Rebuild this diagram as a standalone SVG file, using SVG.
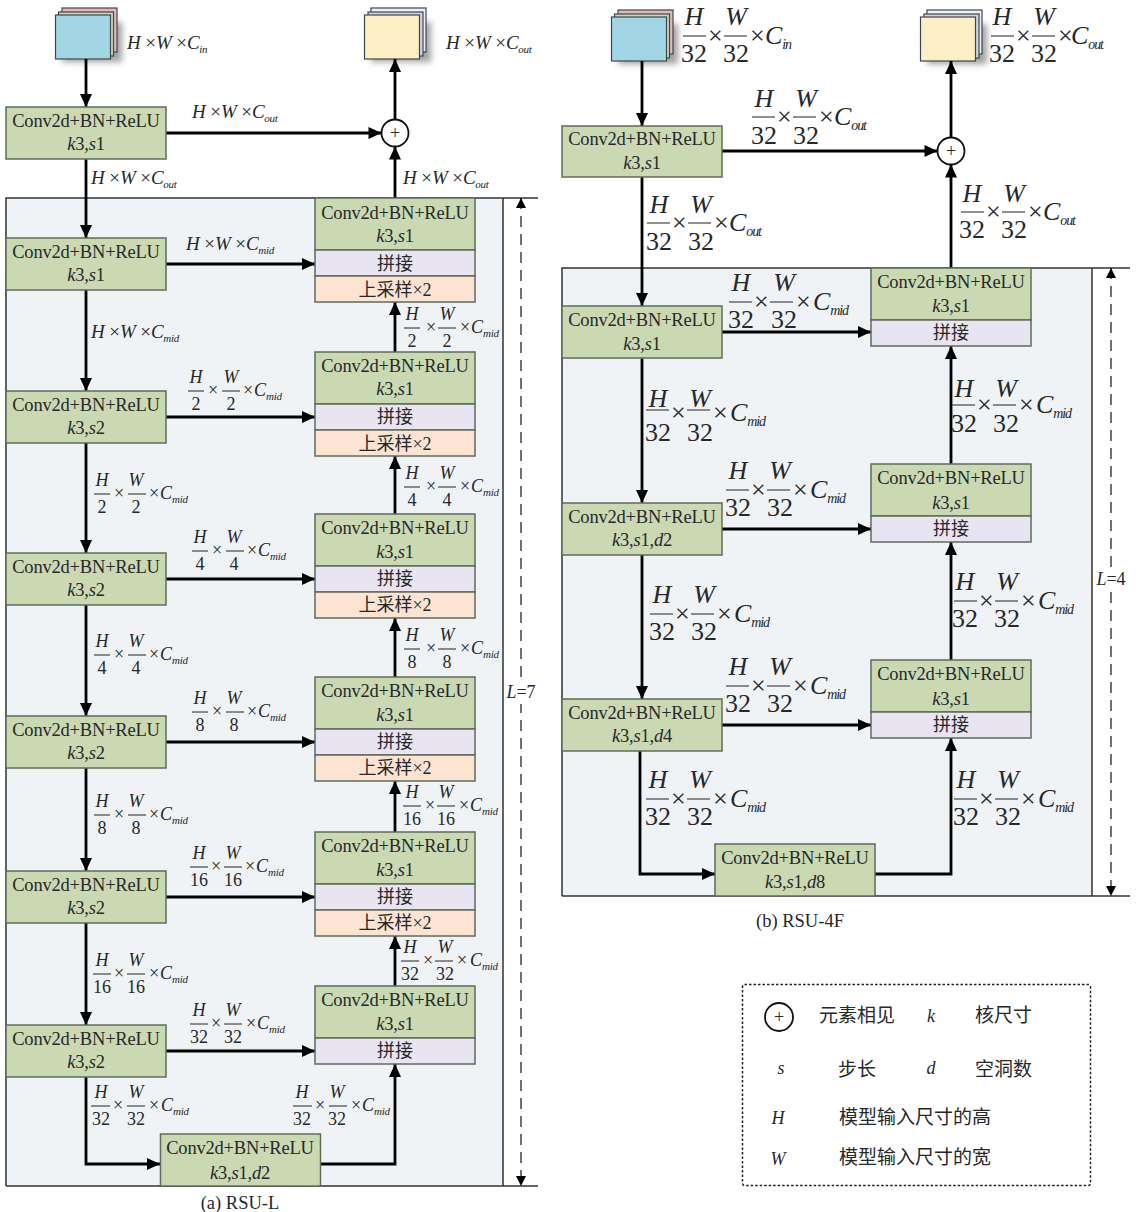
<svg xmlns="http://www.w3.org/2000/svg" width="1138" height="1212" viewBox="0 0 1138 1212">
<style>
text{font-family:"Liberation Serif","Noto Sans CJK SC",serif;fill:#26282b}
.t{font-size:18.5px;letter-spacing:-.2px;text-anchor:middle}
.c{font-size:18px;text-anchor:middle;font-family:"Noto Sans CJK SC","Liberation Serif",sans-serif}
.x{font-family:"Liberation Serif",serif}
.i{font-style:italic}
.n{stroke:#5f6b5b;stroke-width:1.5}
.g{fill:#cbd9b3}.p{fill:#e9e4f1}.o{fill:#fde4d2}
.w{stroke:#3c4650;stroke-width:1.2}
.a{fill:none;stroke:#000;stroke-width:2.8;marker-end:url(#ah)}
.d{fill:none;stroke:#111;stroke-width:1.2;stroke-dasharray:11 7;marker-start:url(#dh);marker-end:url(#de)}
.b{stroke:#222;stroke-width:1.2;fill:none}
.s{font-size:19px}.s tspan{font-size:11px;letter-spacing:-.3px}
.f{font-size:18px}.f .m{font-size:11px;letter-spacing:-.3px}
.h{font-size:26px}.h .m{font-size:14px;letter-spacing:-1.2px}
.fa{text-anchor:middle}
.leg{font-size:19px;font-family:"Noto Sans CJK SC","Liberation Serif",sans-serif}
.ll{font-size:18px;font-style:italic;text-anchor:middle}
.pl{font-size:18px;text-anchor:middle}
</style>
<defs>
<marker id="ah" markerUnits="userSpaceOnUse" markerWidth="14" markerHeight="14" refX="14" refY="7" orient="auto"><path d="M1 1L14 7L1 13z" fill="#000"/></marker>
<marker id="de" markerUnits="userSpaceOnUse" markerWidth="10" markerHeight="10" refX="10" refY="5" orient="auto"><path d="M0 0L10 5L0 10z" fill="#000"/></marker>
<marker id="dh" markerUnits="userSpaceOnUse" markerWidth="10" markerHeight="10" refX="0" refY="5" orient="auto"><path d="M10 0L0 5L10 10z" fill="#000"/></marker>
<filter id="sh" x="-30%" y="-30%" width="160%" height="160%"><feGaussianBlur stdDeviation="3"/></filter>
</defs>

<g id="panels">
<rect x="6" y="198" width="497" height="988" fill="#eff3f5"/>
<path d="M6 1186V198H538M503 198V1186M6 1186H538" fill="none" stroke="#333" stroke-width="1.5"/>
<rect x="562" y="268" width="530" height="628" fill="#eff3f5"/>
<path d="M562 896V268H1130M1092 268V896M562 896H1130" fill="none" stroke="#333" stroke-width="1.5"/>
</g>

<g id="stack-a-in">
<rect x="62" y="22" width="60" height="40" fill="#555" opacity=".55" filter="url(#sh)"/>
<rect x="62" y="8" width="55" height="44" fill="#e8b6b6" class="w"/><rect x="58.500" y="12" width="55" height="44" fill="#cbd9b3" class="w"/><rect x="55.500" y="15" width="55" height="44" fill="#a2d6e4" class="w"/>
</g>
<g id="stack-a-out">
<rect x="371" y="22" width="60" height="40" fill="#555" opacity=".55" filter="url(#sh)"/>
<rect x="371" y="8" width="55" height="44" fill="#eef0f6" class="w"/><rect x="368" y="12" width="55" height="44" fill="#d3d3e6" class="w"/><rect x="364.500" y="15" width="55" height="44" fill="#fdefc5" class="w"/>
</g>
<g id="stack-b-in">
<rect x="618" y="24" width="60" height="40" fill="#555" opacity=".55" filter="url(#sh)"/>
<rect x="618" y="10" width="55" height="44" fill="#e8b6b6" class="w"/><rect x="614.500" y="14" width="55" height="44" fill="#cbd9b3" class="w"/><rect x="611.500" y="17" width="55" height="44" fill="#a2d6e4" class="w"/>
</g>
<g id="stack-b-out">
<rect x="927" y="24" width="60" height="40" fill="#555" opacity=".55" filter="url(#sh)"/>
<rect x="927" y="10" width="55" height="44" fill="#eef0f6" class="w"/><rect x="924" y="14" width="55" height="44" fill="#d3d3e6" class="w"/><rect x="920.500" y="17" width="55" height="44" fill="#fdefc5" class="w"/>
</g>

<g id="connectors">
<path class="a" d="M86 59V107"/><path class="a" d="M86 159V238"/><path class="a" d="M86 290V391"/><path class="a" d="M86 443V553"/><path class="a" d="M86 605V716"/><path class="a" d="M86 768V871"/><path class="a" d="M86 923V1025"/><path class="a" d="M86 1077V1164H160"/>
<path class="a" d="M166 133H381.500"/><path class="a" d="M166 264H315"/><path class="a" d="M166 417H315"/><path class="a" d="M166 579H315"/><path class="a" d="M166 742H315"/><path class="a" d="M166 897H315"/><path class="a" d="M166 1051H315"/>
<path class="a" d="M395 198V146.500"/><path class="a" d="M395 119.500V59"/><path class="a" d="M395 352V302"/><path class="a" d="M395 514V456"/><path class="a" d="M395 677V618"/><path class="a" d="M395 832V781"/><path class="a" d="M395 986V936"/><path class="a" d="M321 1164H395V1064"/>
<path class="d" d="M521 198V1186"/>
<path class="a" d="M642 61V126"/><path class="a" d="M642 177V306"/><path class="a" d="M642 358V503"/><path class="a" d="M642 555V699"/><path class="a" d="M640 751V874H715"/>
<path class="a" d="M722 151H937.500"/><path class="a" d="M722 332H871"/><path class="a" d="M722 529H871"/><path class="a" d="M722 725H871"/>
<path class="a" d="M951 268V164.500"/><path class="a" d="M951 137.500V61"/><path class="a" d="M951 464V346"/><path class="a" d="M951 660V542"/><path class="a" d="M875 874H951V738"/>
<path class="d" d="M1111 268V896"/>
</g>

<g id="plus-a"><circle cx="395" cy="133" r="13.500" fill="#fff" stroke="#111" stroke-width="1.800"/><text x="395" y="139" class="pl">+</text></g>
<g id="plus-b"><circle cx="951" cy="151" r="13.500" fill="#fff" stroke="#111" stroke-width="1.800"/><text x="951" y="157" class="pl">+</text></g>

<g id="a-l0"><rect class="n g" x="6" y="107" width="160" height="52"/><text class="t" x="86" y="127">Conv2d+BN+ReLU</text><text class="t" x="86" y="150"><tspan class="i">k</tspan>3,<tspan class="i">s</tspan>1</text></g>
<g id="a-l1"><rect class="n g" x="6" y="238" width="160" height="52"/><text class="t" x="86" y="258">Conv2d+BN+ReLU</text><text class="t" x="86" y="281"><tspan class="i">k</tspan>3,<tspan class="i">s</tspan>1</text></g>
<g id="a-l2"><rect class="n g" x="6" y="391" width="160" height="52"/><text class="t" x="86" y="411">Conv2d+BN+ReLU</text><text class="t" x="86" y="434"><tspan class="i">k</tspan>3,<tspan class="i">s</tspan>2</text></g>
<g id="a-l3"><rect class="n g" x="6" y="553" width="160" height="52"/><text class="t" x="86" y="573">Conv2d+BN+ReLU</text><text class="t" x="86" y="596"><tspan class="i">k</tspan>3,<tspan class="i">s</tspan>2</text></g>
<g id="a-l4"><rect class="n g" x="6" y="716" width="160" height="52"/><text class="t" x="86" y="736">Conv2d+BN+ReLU</text><text class="t" x="86" y="759"><tspan class="i">k</tspan>3,<tspan class="i">s</tspan>2</text></g>
<g id="a-l5"><rect class="n g" x="6" y="871" width="160" height="52"/><text class="t" x="86" y="891">Conv2d+BN+ReLU</text><text class="t" x="86" y="914"><tspan class="i">k</tspan>3,<tspan class="i">s</tspan>2</text></g>
<g id="a-l6"><rect class="n g" x="6" y="1025" width="160" height="52"/><text class="t" x="86" y="1045">Conv2d+BN+ReLU</text><text class="t" x="86" y="1068"><tspan class="i">k</tspan>3,<tspan class="i">s</tspan>2</text></g>
<g id="a-bottom"><rect class="n g" x="160.500" y="1134" width="160" height="52"/><text class="t" x="240" y="1154">Conv2d+BN+ReLU</text><text class="t" x="240" y="1179"><tspan class="i">k</tspan>3,<tspan class="i">s</tspan>1,<tspan class="i">d</tspan>2</text></g>

<g id="a-r1"><rect class="n g" x="315" y="198" width="160" height="52"/><rect class="n p" x="315" y="250" width="160" height="26"/><rect class="n o" x="315" y="276" width="160" height="26"/><text class="t" x="395" y="219">Conv2d+BN+ReLU</text><text class="t" x="395" y="242"><tspan class="i">k</tspan>3,<tspan class="i">s</tspan>1</text><text class="c" x="395" y="270">拼接</text><text class="c" x="395" y="296">上采样<tspan class="x">×2</tspan></text></g>
<g id="a-r2"><rect class="n g" x="315" y="352" width="160" height="52"/><rect class="n p" x="315" y="404" width="160" height="26"/><rect class="n o" x="315" y="430" width="160" height="26"/><text class="t" x="395" y="372">Conv2d+BN+ReLU</text><text class="t" x="395" y="395"><tspan class="i">k</tspan>3,<tspan class="i">s</tspan>1</text><text class="c" x="395" y="423">拼接</text><text class="c" x="395" y="450">上采样<tspan class="x">×2</tspan></text></g>
<g id="a-r3"><rect class="n g" x="315" y="514" width="160" height="52"/><rect class="n p" x="315" y="566" width="160" height="26"/><rect class="n o" x="315" y="592" width="160" height="26"/><text class="t" x="395" y="534">Conv2d+BN+ReLU</text><text class="t" x="395" y="558"><tspan class="i">k</tspan>3,<tspan class="i">s</tspan>1</text><text class="c" x="395" y="585">拼接</text><text class="c" x="395" y="611">上采样<tspan class="x">×2</tspan></text></g>
<g id="a-r4"><rect class="n g" x="315" y="677" width="160" height="52"/><rect class="n p" x="315" y="729" width="160" height="26"/><rect class="n o" x="315" y="755" width="160" height="26"/><text class="t" x="395" y="697">Conv2d+BN+ReLU</text><text class="t" x="395" y="721"><tspan class="i">k</tspan>3,<tspan class="i">s</tspan>1</text><text class="c" x="395" y="748">拼接</text><text class="c" x="395" y="774">上采样<tspan class="x">×2</tspan></text></g>
<g id="a-r5"><rect class="n g" x="315" y="832" width="160" height="52"/><rect class="n p" x="315" y="884" width="160" height="26"/><rect class="n o" x="315" y="910" width="160" height="26"/><text class="t" x="395" y="852">Conv2d+BN+ReLU</text><text class="t" x="395" y="876"><tspan class="i">k</tspan>3,<tspan class="i">s</tspan>1</text><text class="c" x="395" y="903">拼接</text><text class="c" x="395" y="929">上采样<tspan class="x">×2</tspan></text></g>
<g id="a-r6"><rect class="n g" x="315" y="986" width="160" height="52"/><rect class="n p" x="315" y="1038" width="160" height="26"/><text class="t" x="395" y="1006">Conv2d+BN+ReLU</text><text class="t" x="395" y="1030"><tspan class="i">k</tspan>3,<tspan class="i">s</tspan>1</text><text class="c" x="395" y="1057">拼接</text></g>

<g id="b-top"><rect class="n g" x="562" y="126" width="160" height="51"/><text class="t" x="642" y="145">Conv2d+BN+ReLU</text><text class="t" x="642" y="169"><tspan class="i">k</tspan>3,<tspan class="i">s</tspan>1</text></g>
<g id="b-l1"><rect class="n g" x="562" y="306" width="160" height="52"/><text class="t" x="642" y="326">Conv2d+BN+ReLU</text><text class="t" x="642" y="350"><tspan class="i">k</tspan>3,<tspan class="i">s</tspan>1</text></g>
<g id="b-l2"><rect class="n g" x="562" y="503" width="160" height="52"/><text class="t" x="642" y="523">Conv2d+BN+ReLU</text><text class="t" x="642" y="546"><tspan class="i">k</tspan>3,<tspan class="i">s</tspan>1,<tspan class="i">d</tspan>2</text></g>
<g id="b-l3"><rect class="n g" x="562" y="699" width="160" height="52"/><text class="t" x="642" y="719">Conv2d+BN+ReLU</text><text class="t" x="642" y="742"><tspan class="i">k</tspan>3,<tspan class="i">s</tspan>1,<tspan class="i">d</tspan>4</text></g>
<g id="b-bottom"><rect class="n g" x="715" y="844" width="160" height="52"/><text class="t" x="795" y="864">Conv2d+BN+ReLU</text><text class="t" x="795" y="888"><tspan class="i">k</tspan>3,<tspan class="i">s</tspan>1,<tspan class="i">d</tspan>8</text></g>
<g id="b-r1"><rect class="n g" x="871" y="268" width="160" height="52"/><rect class="n p" x="871" y="320" width="160" height="26"/><text class="t" x="951" y="288">Conv2d+BN+ReLU</text><text class="t" x="951" y="312"><tspan class="i">k</tspan>3,<tspan class="i">s</tspan>1</text><text class="c" x="951" y="339">拼接</text></g>
<g id="b-r2"><rect class="n g" x="871" y="464" width="160" height="52"/><rect class="n p" x="871" y="516" width="160" height="26"/><text class="t" x="951" y="484">Conv2d+BN+ReLU</text><text class="t" x="951" y="509"><tspan class="i">k</tspan>3,<tspan class="i">s</tspan>1</text><text class="c" x="951" y="535">拼接</text></g>
<g id="b-r3"><rect class="n g" x="871" y="660" width="160" height="52"/><rect class="n p" x="871" y="712" width="160" height="26"/><text class="t" x="951" y="680">Conv2d+BN+ReLU</text><text class="t" x="951" y="705"><tspan class="i">k</tspan>3,<tspan class="i">s</tspan>1</text><text class="c" x="951" y="731">拼接</text></g>

<g id="labels-inline" class="s">
<text x="127" y="49" class="s"><tspan class="i" style="font-size:19px">H</tspan> ×<tspan class="i" style="font-size:19px">W</tspan> ×<tspan class="i" style="font-size:19px">C</tspan><tspan class="i" dy="4">in</tspan></text>
<text x="446" y="49" class="s"><tspan class="i" style="font-size:19px">H</tspan> ×<tspan class="i" style="font-size:19px">W</tspan> ×<tspan class="i" style="font-size:19px">C</tspan><tspan class="i" dy="4">out</tspan></text>
<text x="192" y="118" class="s"><tspan class="i" style="font-size:19px">H</tspan> ×<tspan class="i" style="font-size:19px">W</tspan> ×<tspan class="i" style="font-size:19px">C</tspan><tspan class="i" dy="4">out</tspan></text>
<text x="91" y="184" class="s"><tspan class="i" style="font-size:19px">H</tspan> ×<tspan class="i" style="font-size:19px">W</tspan> ×<tspan class="i" style="font-size:19px">C</tspan><tspan class="i" dy="4">out</tspan></text>
<text x="403" y="184" class="s"><tspan class="i" style="font-size:19px">H</tspan> ×<tspan class="i" style="font-size:19px">W</tspan> ×<tspan class="i" style="font-size:19px">C</tspan><tspan class="i" dy="4">out</tspan></text>
<text x="186" y="250" class="s"><tspan class="i" style="font-size:19px">H</tspan> ×<tspan class="i" style="font-size:19px">W</tspan> ×<tspan class="i" style="font-size:19px">C</tspan><tspan class="i" dy="4">mid</tspan></text>
<text x="91" y="338" class="s"><tspan class="i" style="font-size:19px">H</tspan> ×<tspan class="i" style="font-size:19px">W</tspan> ×<tspan class="i" style="font-size:19px">C</tspan><tspan class="i" dy="4">mid</tspan></text>
</g>

<g id="labels-small" class="f">
<g transform="translate(404,328)"><path class="b" d="M0 0H16M34 0H52"/><text class="i fa" x="8" y="-8">H</text><text class="i fa" x="43" y="-8">W</text><text class="fa" x="8" y="19">2</text><text class="fa" x="43" y="19">2</text><text x="22" y="5">×</text><text x="56" y="5">×</text><text class="i" x="67" y="5">C<tspan class="m" dy="4">mid</tspan></text></g>
<g transform="translate(188,391)"><path class="b" d="M0 0H16M34 0H52"/><text class="i fa" x="8" y="-8">H</text><text class="i fa" x="43" y="-8">W</text><text class="fa" x="8" y="19">2</text><text class="fa" x="43" y="19">2</text><text x="20" y="5">×</text><text x="55" y="5">×</text><text class="i" x="66" y="5">C<tspan class="m" dy="4">mid</tspan></text></g>
<g transform="translate(404,487)"><path class="b" d="M0 0H16M34 0H52"/><text class="i fa" x="8" y="-8">H</text><text class="i fa" x="43" y="-8">W</text><text class="fa" x="8" y="19">4</text><text class="fa" x="43" y="19">4</text><text x="22" y="5">×</text><text x="56" y="5">×</text><text class="i" x="67" y="5">C<tspan class="m" dy="4">mid</tspan></text></g>
<g transform="translate(94,494)"><path class="b" d="M0 0H16M34 0H52"/><text class="i fa" x="8" y="-8">H</text><text class="i fa" x="42" y="-8">W</text><text class="fa" x="8" y="19">2</text><text class="fa" x="42" y="19">2</text><text x="20" y="5">×</text><text x="55" y="5">×</text><text class="i" x="66" y="5">C<tspan class="m" dy="4">mid</tspan></text></g>
<g transform="translate(192,551)"><path class="b" d="M0 0H16M34 0H52"/><text class="i fa" x="8" y="-8">H</text><text class="i fa" x="42" y="-8">W</text><text class="fa" x="8" y="19">4</text><text class="fa" x="42" y="19">4</text><text x="20" y="5">×</text><text x="55" y="5">×</text><text class="i" x="66" y="5">C<tspan class="m" dy="4">mid</tspan></text></g>
<g transform="translate(404,649)"><path class="b" d="M0 0H16M34 0H52"/><text class="i fa" x="8" y="-8">H</text><text class="i fa" x="43" y="-8">W</text><text class="fa" x="8" y="19">8</text><text class="fa" x="43" y="19">8</text><text x="22" y="5">×</text><text x="56" y="5">×</text><text class="i" x="67" y="5">C<tspan class="m" dy="4">mid</tspan></text></g>
<g transform="translate(94,655)"><path class="b" d="M0 0H16M34 0H52"/><text class="i fa" x="8" y="-8">H</text><text class="i fa" x="42" y="-8">W</text><text class="fa" x="8" y="19">4</text><text class="fa" x="42" y="19">4</text><text x="20" y="5">×</text><text x="55" y="5">×</text><text class="i" x="66" y="5">C<tspan class="m" dy="4">mid</tspan></text></g>
<g transform="translate(192,712)"><path class="b" d="M0 0H16M34 0H52"/><text class="i fa" x="8" y="-8">H</text><text class="i fa" x="42" y="-8">W</text><text class="fa" x="8" y="19">8</text><text class="fa" x="42" y="19">8</text><text x="20" y="5">×</text><text x="55" y="5">×</text><text class="i" x="66" y="5">C<tspan class="m" dy="4">mid</tspan></text></g>
<g transform="translate(403,806)"><path class="b" d="M0 0H18M34 0H52"/><text class="i fa" x="9" y="-8">H</text><text class="i fa" x="43" y="-8">W</text><text class="fa" x="9" y="19">16</text><text class="fa" x="43" y="19">16</text><text x="22" y="5">×</text><text x="56" y="5">×</text><text class="i" x="67" y="5">C<tspan class="m" dy="4">mid</tspan></text></g>
<g transform="translate(94,815)"><path class="b" d="M0 0H16M34 0H52"/><text class="i fa" x="8" y="-8">H</text><text class="i fa" x="42" y="-8">W</text><text class="fa" x="8" y="19">8</text><text class="fa" x="42" y="19">8</text><text x="20" y="5">×</text><text x="55" y="5">×</text><text class="i" x="66" y="5">C<tspan class="m" dy="4">mid</tspan></text></g>
<g transform="translate(190,867)"><path class="b" d="M0 0H18M34 0H52"/><text class="i fa" x="9" y="-8">H</text><text class="i fa" x="43" y="-8">W</text><text class="fa" x="9" y="19">16</text><text class="fa" x="43" y="19">16</text><text x="21" y="5">×</text><text x="55" y="5">×</text><text class="i" x="66" y="5">C<tspan class="m" dy="4">mid</tspan></text></g>
<g transform="translate(401,961)"><path class="b" d="M0 0H18M34 0H52"/><text class="i fa" x="9" y="-8">H</text><text class="i fa" x="44" y="-8">W</text><text class="fa" x="9" y="19">32</text><text class="fa" x="44" y="19">32</text><text x="22" y="5">×</text><text x="56" y="5">×</text><text class="i" x="69" y="5">C<tspan class="m" dy="4">mid</tspan></text></g>
<g transform="translate(93,974)"><path class="b" d="M0 0H18M34 0H52"/><text class="i fa" x="9" y="-8">H</text><text class="i fa" x="43" y="-8">W</text><text class="fa" x="9" y="19">16</text><text class="fa" x="43" y="19">16</text><text x="21" y="5">×</text><text x="56" y="5">×</text><text class="i" x="67" y="5">C<tspan class="m" dy="4">mid</tspan></text></g>
<g transform="translate(190,1024)"><path class="b" d="M0 0H18M34 0H52"/><text class="i fa" x="9" y="-8">H</text><text class="i fa" x="43" y="-8">W</text><text class="fa" x="9" y="19">32</text><text class="fa" x="43" y="19">32</text><text x="21" y="5">×</text><text x="56" y="5">×</text><text class="i" x="67" y="5">C<tspan class="m" dy="4">mid</tspan></text></g>
<g transform="translate(91,1106)"><path class="b" d="M0 0H19M36 0H54"/><text class="i fa" x="10" y="-8">H</text><text class="i fa" x="45" y="-8">W</text><text class="fa" x="10" y="19">32</text><text class="fa" x="45" y="19">32</text><text x="22" y="5">×</text><text x="58" y="5">×</text><text class="i" x="70" y="5">C<tspan class="m" dy="4">mid</tspan></text></g>
<g transform="translate(293,1106)"><path class="b" d="M0 0H19M36 0H54"/><text class="i fa" x="9" y="-8">H</text><text class="i fa" x="44" y="-8">W</text><text class="fa" x="9" y="19">32</text><text class="fa" x="44" y="19">32</text><text x="22" y="5">×</text><text x="58" y="5">×</text><text class="i" x="69" y="5">C<tspan class="m" dy="4">mid</tspan></text></g>
</g>

<g id="labels-large" class="h">
<g transform="translate(683,36)"><path class="b" d="M0 0H23M41 0H64"/><text class="i fa" x="11" y="-11">H</text><text class="i fa" x="53" y="-11">W</text><text class="fa" x="11" y="26">32</text><text class="fa" x="53" y="26">32</text><text x="25" y="8">×</text><text x="67" y="8">×</text><text class="i" x="82" y="8">C<tspan class="m" dy="5">in</tspan></text></g>
<g transform="translate(991,36)"><path class="b" d="M0 0H23M41 0H64"/><text class="i fa" x="11" y="-11">H</text><text class="i fa" x="53" y="-11">W</text><text class="fa" x="11" y="26">32</text><text class="fa" x="53" y="26">32</text><text x="25" y="8">×</text><text x="67" y="8">×</text><text class="i" x="80" y="8">C<tspan class="m" dy="5">out</tspan></text></g>
<g transform="translate(752,117)"><path class="b" d="M0 0H23M41 0H64"/><text class="i fa" x="12" y="-10">H</text><text class="i fa" x="54" y="-10">W</text><text class="fa" x="12" y="27">32</text><text class="fa" x="54" y="27">32</text><text x="25" y="8">×</text><text x="67" y="8">×</text><text class="i" x="82" y="8">C<tspan class="m" dy="5">out</tspan></text></g>
<g transform="translate(647,223)"><path class="b" d="M0 0H23M41 0H64"/><text class="i fa" x="12" y="-10">H</text><text class="i fa" x="54" y="-10">W</text><text class="fa" x="12" y="27">32</text><text class="fa" x="54" y="27">32</text><text x="25" y="8">×</text><text x="67" y="8">×</text><text class="i" x="82" y="8">C<tspan class="m" dy="5">out</tspan></text></g>
<g transform="translate(961,212)"><path class="b" d="M0 0H23M41 0H64"/><text class="i fa" x="11" y="-10">H</text><text class="i fa" x="53" y="-10">W</text><text class="fa" x="11" y="26">32</text><text class="fa" x="53" y="26">32</text><text x="25" y="8">×</text><text x="67" y="8">×</text><text class="i" x="82" y="8">C<tspan class="m" dy="5">out</tspan></text></g>
<g transform="translate(729,302)"><path class="b" d="M0 0H23M41 0H64"/><text class="i fa" x="12" y="-11">H</text><text class="i fa" x="55" y="-11">W</text><text class="fa" x="12" y="26">32</text><text class="fa" x="55" y="26">32</text><text x="25" y="8">×</text><text x="67" y="8">×</text><text class="i" x="84" y="8">C<tspan class="m" dy="5">mid</tspan></text></g>
<g transform="translate(646,410)"><path class="b" d="M0 0H23M41 0H64"/><text class="i fa" x="12" y="-3">H</text><text class="i fa" x="54" y="-3">W</text><text class="fa" x="12" y="31">32</text><text class="fa" x="54" y="31">32</text><text x="25" y="11">×</text><text x="67" y="11">×</text><text class="i" x="84" y="11">C<tspan class="m" dy="5">mid</tspan></text></g>
<g transform="translate(952,405)"><path class="b" d="M0 0H23M41 0H64"/><text class="i fa" x="12" y="-8">H</text><text class="i fa" x="54" y="-8">W</text><text class="fa" x="12" y="27">32</text><text class="fa" x="54" y="27">32</text><text x="25" y="8">×</text><text x="67" y="8">×</text><text class="i" x="84" y="8">C<tspan class="m" dy="5">mid</tspan></text></g>
<g transform="translate(726,490)"><path class="b" d="M0 0H23M41 0H64"/><text class="i fa" x="12" y="-11">H</text><text class="i fa" x="54" y="-11">W</text><text class="fa" x="12" y="26">32</text><text class="fa" x="54" y="26">32</text><text x="25" y="8">×</text><text x="67" y="8">×</text><text class="i" x="84" y="8">C<tspan class="m" dy="5">mid</tspan></text></g>
<g transform="translate(650,614)"><path class="b" d="M0 0H23M41 0H64"/><text class="i fa" x="12" y="-11">H</text><text class="i fa" x="54" y="-11">W</text><text class="fa" x="12" y="26">32</text><text class="fa" x="54" y="26">32</text><text x="25" y="8">×</text><text x="67" y="8">×</text><text class="i" x="84" y="8">C<tspan class="m" dy="5">mid</tspan></text></g>
<g transform="translate(954,601)"><path class="b" d="M0 0H23M41 0H64"/><text class="i fa" x="11" y="-11">H</text><text class="i fa" x="53" y="-11">W</text><text class="fa" x="11" y="26">32</text><text class="fa" x="53" y="26">32</text><text x="25" y="8">×</text><text x="67" y="8">×</text><text class="i" x="84" y="8">C<tspan class="m" dy="5">mid</tspan></text></g>
<g transform="translate(726,686)"><path class="b" d="M0 0H23M41 0H64"/><text class="i fa" x="12" y="-11">H</text><text class="i fa" x="54" y="-11">W</text><text class="fa" x="12" y="26">32</text><text class="fa" x="54" y="26">32</text><text x="25" y="8">×</text><text x="67" y="8">×</text><text class="i" x="84" y="8">C<tspan class="m" dy="5">mid</tspan></text></g>
<g transform="translate(646,799)"><path class="b" d="M0 0H23M41 0H64"/><text class="i fa" x="12" y="-11">H</text><text class="i fa" x="54" y="-11">W</text><text class="fa" x="12" y="26">32</text><text class="fa" x="54" y="26">32</text><text x="25" y="8">×</text><text x="67" y="8">×</text><text class="i" x="84" y="8">C<tspan class="m" dy="5">mid</tspan></text></g>
<g transform="translate(954,799)"><path class="b" d="M0 0H23M41 0H64"/><text class="i fa" x="12" y="-11">H</text><text class="i fa" x="54" y="-11">W</text><text class="fa" x="12" y="26">32</text><text class="fa" x="54" y="26">32</text><text x="25" y="8">×</text><text x="67" y="8">×</text><text class="i" x="84" y="8">C<tspan class="m" dy="5">mid</tspan></text></g>
</g>

<g id="dim-labels">
<rect x="505" y="684" width="33" height="20" fill="#fff"/><text x="521" y="698" class="ll"><tspan>L</tspan><tspan style="font-style:normal">=7</tspan></text>
<rect x="1095" y="571" width="33" height="20" fill="#fff"/><text x="1111" y="585" class="ll"><tspan>L</tspan><tspan style="font-style:normal">=4</tspan></text>
</g>

<g id="captions">
<text x="240" y="1209" class="t" style="font-size:18.500px;letter-spacing:0">(a) RSU-L</text>
<text x="800" y="927" class="t" style="font-size:18.500px;letter-spacing:0">(b) RSU-4F</text>
</g>

<g id="legend">
<rect x="742.500" y="984.500" width="348" height="201" rx="2" fill="none" stroke="#222" stroke-width="1.500" stroke-dasharray="2.500 2"/>
<circle cx="779" cy="1017" r="14" fill="#fff" stroke="#111" stroke-width="1.800"/><text x="779" y="1023" class="pl">+</text>
<text x="819" y="1022" class="leg">元素相见</text>
<text x="931" y="1022" class="ll">k</text>
<text x="975" y="1022" class="leg">核尺寸</text>
<text x="781" y="1074" class="ll">s</text>
<text x="838" y="1076" class="leg">步长</text>
<text x="931" y="1074" class="ll">d</text>
<text x="975" y="1076" class="leg">空洞数</text>
<text x="778" y="1124" class="ll">H</text>
<text x="839" y="1124" class="leg">模型输入尺寸的高</text>
<text x="778" y="1165" class="ll">W</text>
<text x="839" y="1164" class="leg">模型输入尺寸的宽</text>
</g>
</svg>
